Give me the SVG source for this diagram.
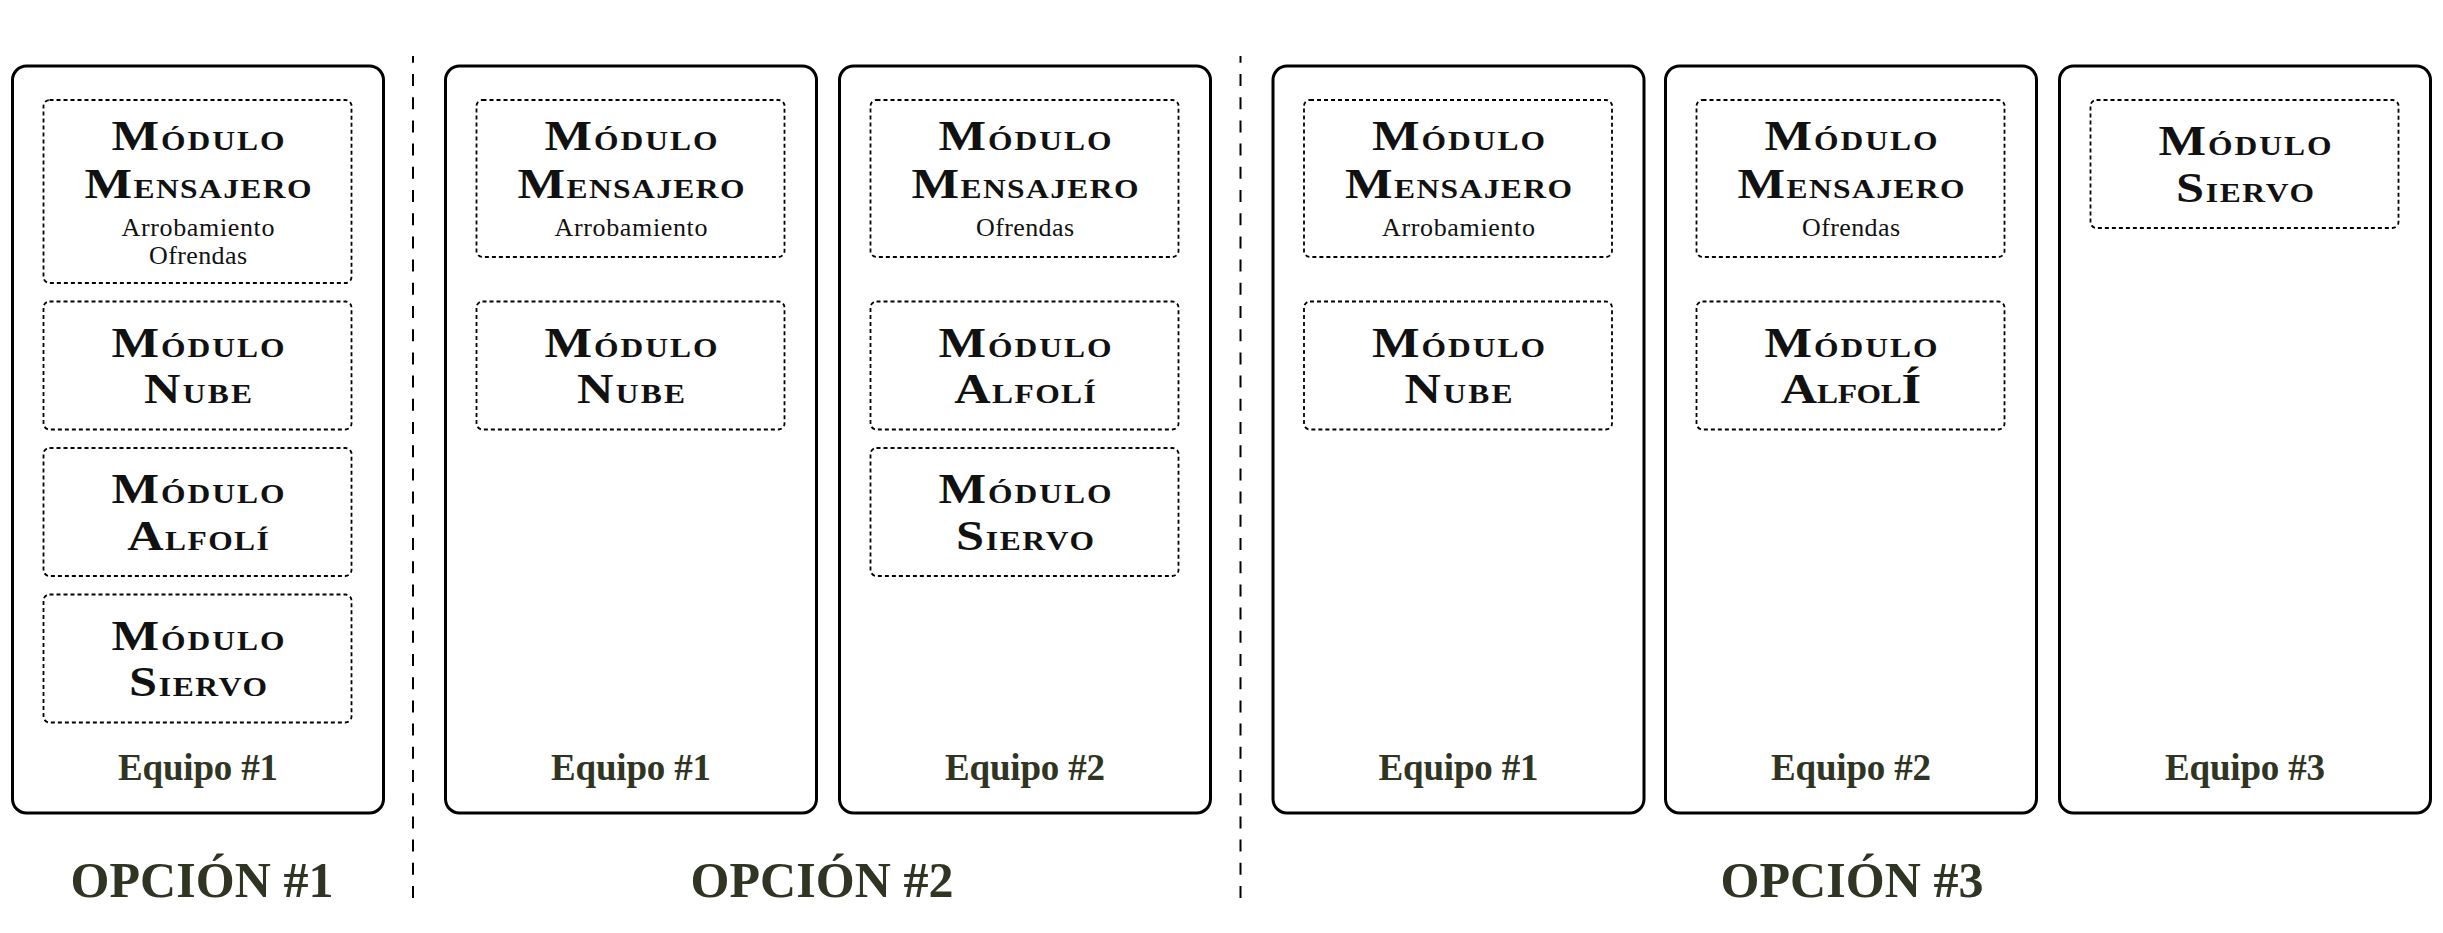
<svg xmlns="http://www.w3.org/2000/svg" width="2443" height="933" viewBox="0 0 2443 933">
<style>
.team{fill:#ffffff;stroke:#000;stroke-width:3}
.mod{fill:none;stroke:#000;stroke-width:1.8;stroke-dasharray:4 3}
.div{stroke:#000;stroke-width:2;stroke-dasharray:12 11.2;stroke-dashoffset:5.2}
.t{font-family:"Liberation Serif","DejaVu Serif",serif;font-weight:bold;font-variant:small-caps;font-size:37px;fill:#111;text-anchor:middle}
.c{font-size:42px}
.s{font-family:"Liberation Serif","DejaVu Serif",serif;font-size:26px;fill:#111;text-anchor:middle}
.eq{font-family:"Liberation Serif","DejaVu Serif",serif;font-weight:bold;font-size:37px;fill:#2f3522;text-anchor:middle}
.op{font-family:"Liberation Serif","DejaVu Serif",serif;font-weight:bold;font-size:50px;fill:#2f3522;text-anchor:middle}
</style>
<rect width="2443" height="933" fill="#ffffff"/>
<g id="dividers">
<line class="div" x1="413" y1="56" x2="413" y2="898"/>
<line class="div" x1="1240.5" y1="56" x2="1240.5" y2="898"/>
</g>
<g id="option1">
<g id="opt1-team1">
<rect class="team" x="12.5" y="66" width="371" height="747" rx="14"/>
<g id="opt1-team1-mensajero">
<rect class="mod" x="43.5" y="100" width="308" height="183" rx="6"/>
<text class="t" transform="translate(198 150) scale(1.2 1)" textLength="144" lengthAdjust="spacing"><tspan class="c">M</tspan>ódulo</text>
<text class="t" transform="translate(198 198) scale(1.2 1)" textLength="189" lengthAdjust="spacing"><tspan class="c">M</tspan>ensajero</text>
<text class="s" x="198" y="236" textLength="153" lengthAdjust="spacing">Arrobamiento</text>
<text class="s" x="198" y="264" textLength="98" lengthAdjust="spacing">Ofrendas</text>
</g>
<g id="opt1-team1-nube">
<rect class="mod" x="43.5" y="301.5" width="308" height="128" rx="6"/>
<text class="t" transform="translate(198 356.5) scale(1.2 1)" textLength="144" lengthAdjust="spacing"><tspan class="c">M</tspan>ódulo</text>
<text class="t" transform="translate(198 403) scale(1.2 1)" textLength="90" lengthAdjust="spacing"><tspan class="c">N</tspan>ube</text>
</g>
<g id="opt1-team1-alfoli">
<rect class="mod" x="43.5" y="448" width="308" height="128" rx="6"/>
<text class="t" transform="translate(198 503) scale(1.2 1)" textLength="144" lengthAdjust="spacing"><tspan class="c">M</tspan>ódulo</text>
<text class="t" transform="translate(198 549.5) scale(1.2 1)" textLength="118" lengthAdjust="spacing"><tspan class="c">A</tspan>lfolí</text>
</g>
<g id="opt1-team1-siervo">
<rect class="mod" x="43.5" y="594.5" width="308" height="128" rx="6"/>
<text class="t" transform="translate(198 649.5) scale(1.2 1)" textLength="144" lengthAdjust="spacing"><tspan class="c">M</tspan>ódulo</text>
<text class="t" transform="translate(198 696) scale(1.2 1)" textLength="115" lengthAdjust="spacing"><tspan class="c">S</tspan>iervo</text>
</g>
<text class="eq" x="198" y="780" textLength="160" lengthAdjust="spacing">Equipo #1</text>
</g>
<text id="opt1-label" class="op" x="202" y="897" textLength="263" lengthAdjust="spacing">OPCIÓN #1</text>
</g>
<g id="option2">
<g id="opt2-team1">
<rect class="team" x="445.5" y="66" width="371" height="747" rx="14"/>
<g id="opt2-team1-mensajero">
<rect class="mod" x="476.5" y="100" width="308" height="157" rx="6"/>
<text class="t" transform="translate(631 150) scale(1.2 1)" textLength="144" lengthAdjust="spacing"><tspan class="c">M</tspan>ódulo</text>
<text class="t" transform="translate(631 198) scale(1.2 1)" textLength="189" lengthAdjust="spacing"><tspan class="c">M</tspan>ensajero</text>
<text class="s" x="631" y="236" textLength="153" lengthAdjust="spacing">Arrobamiento</text>
</g>
<g id="opt2-team1-nube">
<rect class="mod" x="476.5" y="301.5" width="308" height="128" rx="6"/>
<text class="t" transform="translate(631 356.5) scale(1.2 1)" textLength="144" lengthAdjust="spacing"><tspan class="c">M</tspan>ódulo</text>
<text class="t" transform="translate(631 403) scale(1.2 1)" textLength="90" lengthAdjust="spacing"><tspan class="c">N</tspan>ube</text>
</g>
<text class="eq" x="631" y="780" textLength="160" lengthAdjust="spacing">Equipo #1</text>
</g>
<g id="opt2-team2">
<rect class="team" x="839.5" y="66" width="371" height="747" rx="14"/>
<g id="opt2-team2-mensajero">
<rect class="mod" x="870.5" y="100" width="308" height="157" rx="6"/>
<text class="t" transform="translate(1025 150) scale(1.2 1)" textLength="144" lengthAdjust="spacing"><tspan class="c">M</tspan>ódulo</text>
<text class="t" transform="translate(1025 198) scale(1.2 1)" textLength="189" lengthAdjust="spacing"><tspan class="c">M</tspan>ensajero</text>
<text class="s" x="1025" y="236" textLength="98" lengthAdjust="spacing">Ofrendas</text>
</g>
<g id="opt2-team2-alfoli">
<rect class="mod" x="870.5" y="301.5" width="308" height="128" rx="6"/>
<text class="t" transform="translate(1025 356.5) scale(1.2 1)" textLength="144" lengthAdjust="spacing"><tspan class="c">M</tspan>ódulo</text>
<text class="t" transform="translate(1025 403) scale(1.2 1)" textLength="118" lengthAdjust="spacing"><tspan class="c">A</tspan>lfolí</text>
</g>
<g id="opt2-team2-siervo">
<rect class="mod" x="870.5" y="448" width="308" height="128" rx="6"/>
<text class="t" transform="translate(1025 503) scale(1.2 1)" textLength="144" lengthAdjust="spacing"><tspan class="c">M</tspan>ódulo</text>
<text class="t" transform="translate(1025 549.5) scale(1.2 1)" textLength="115" lengthAdjust="spacing"><tspan class="c">S</tspan>iervo</text>
</g>
<text class="eq" x="1025" y="780" textLength="160" lengthAdjust="spacing">Equipo #2</text>
</g>
<text id="opt2-label" class="op" x="822" y="897" textLength="263" lengthAdjust="spacing">OPCIÓN #2</text>
</g>
<g id="option3">
<g id="opt3-team1">
<rect class="team" x="1273" y="66" width="371" height="747" rx="14"/>
<g id="opt3-team1-mensajero">
<rect class="mod" x="1304" y="100" width="308" height="157" rx="6"/>
<text class="t" transform="translate(1458.5 150) scale(1.2 1)" textLength="144" lengthAdjust="spacing"><tspan class="c">M</tspan>ódulo</text>
<text class="t" transform="translate(1458.5 198) scale(1.2 1)" textLength="189" lengthAdjust="spacing"><tspan class="c">M</tspan>ensajero</text>
<text class="s" x="1458.5" y="236" textLength="153" lengthAdjust="spacing">Arrobamiento</text>
</g>
<g id="opt3-team1-nube">
<rect class="mod" x="1304" y="301.5" width="308" height="128" rx="6"/>
<text class="t" transform="translate(1458.5 356.5) scale(1.2 1)" textLength="144" lengthAdjust="spacing"><tspan class="c">M</tspan>ódulo</text>
<text class="t" transform="translate(1458.5 403) scale(1.2 1)" textLength="90" lengthAdjust="spacing"><tspan class="c">N</tspan>ube</text>
</g>
<text class="eq" x="1458.5" y="780" textLength="160" lengthAdjust="spacing">Equipo #1</text>
</g>
<g id="opt3-team2">
<rect class="team" x="1665.5" y="66" width="371" height="747" rx="14"/>
<g id="opt3-team2-mensajero">
<rect class="mod" x="1696.5" y="100" width="308" height="157" rx="6"/>
<text class="t" transform="translate(1851 150) scale(1.2 1)" textLength="144" lengthAdjust="spacing"><tspan class="c">M</tspan>ódulo</text>
<text class="t" transform="translate(1851 198) scale(1.2 1)" textLength="189" lengthAdjust="spacing"><tspan class="c">M</tspan>ensajero</text>
<text class="s" x="1851" y="236" textLength="98" lengthAdjust="spacing">Ofrendas</text>
</g>
<g id="opt3-team2-alfoli">
<rect class="mod" x="1696.5" y="301.5" width="308" height="128" rx="6"/>
<text class="t" transform="translate(1851 356.5) scale(1.2 1)" textLength="144" lengthAdjust="spacing"><tspan class="c">M</tspan>ódulo</text>
<text class="t" transform="translate(1851 403) scale(1.2 1)" textLength="117" lengthAdjust="spacing"><tspan class="c">A</tspan>lfol<tspan class="c">Í</tspan></text>
</g>
<text class="eq" x="1851" y="780" textLength="160" lengthAdjust="spacing">Equipo #2</text>
</g>
<g id="opt3-team3">
<rect class="team" x="2059.5" y="66" width="371" height="747" rx="14"/>
<g id="opt3-team3-siervo">
<rect class="mod" x="2090.5" y="100" width="308" height="128" rx="6"/>
<text class="t" transform="translate(2245 155) scale(1.2 1)" textLength="144" lengthAdjust="spacing"><tspan class="c">M</tspan>ódulo</text>
<text class="t" transform="translate(2245 201.5) scale(1.2 1)" textLength="115" lengthAdjust="spacing"><tspan class="c">S</tspan>iervo</text>
</g>
<text class="eq" x="2245" y="780" textLength="160" lengthAdjust="spacing">Equipo #3</text>
</g>
<text id="opt3-label" class="op" x="1852" y="897" textLength="263" lengthAdjust="spacing">OPCIÓN #3</text>
</g>
</svg>
